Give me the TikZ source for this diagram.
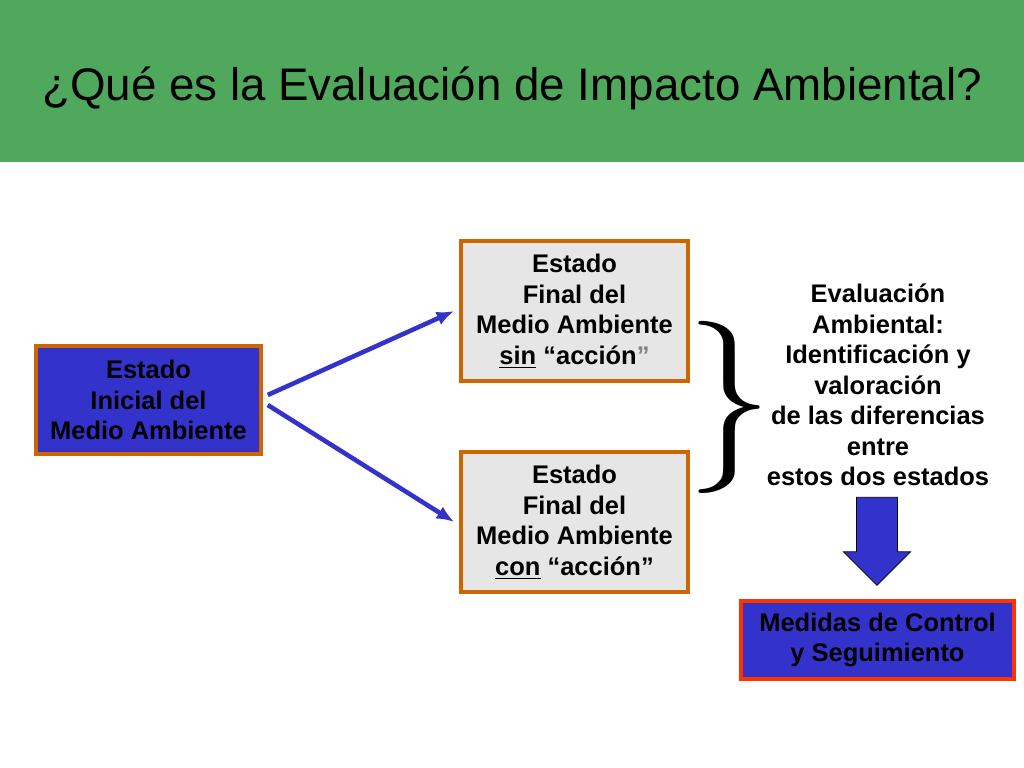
\documentclass[tikz,border=0pt]{standalone}
\usepackage{fontspec}
\setmainfont{Liberation Sans}
\newfontfamily\bracefont{Latin Modern Roman}
\usetikzlibrary{positioning,arrows.meta,shapes.arrows}
\definecolor{bandgreen}{RGB}{80,168,92}
\definecolor{boxblue}{RGB}{51,51,204}
\definecolor{boxorange}{RGB}{204,102,0}
\definecolor{boxgray}{RGB}{230,230,230}
\definecolor{boxred}{RGB}{255,51,0}
\tikzset{
  statebox/.style={draw=boxorange, line width=2pt, align=center, font=\fontsize{14.5}{17.4}\selectfont\bfseries, inner sep=0pt},
  flowarrow/.style={draw=boxblue, line width=2.6pt, -{Latex[length=10pt,width=8pt]}},
}
\begin{document}
\begin{tikzpicture}
\useasboundingbox (0,0) rectangle (20.48,15.36);
\fill[bandgreen] (0,12.12) rectangle (20.48,15.36);
\node (title) at (10.24,13.6) {\fontsize{26}{30}\selectfont ¿Qué es la Evaluación de Impacto Ambiental?};
% estados
\node[statebox, fill=boxblue, minimum width=4.5cm, minimum height=2.16cm] (inicial) at (2.97,7.36)
  {Estado\\Inicial del\\Medio Ambiente};
\node[statebox, fill=boxgray, minimum width=4.54cm, minimum height=2.8cm] (sin) at (11.49,9.14)
  {Estado\\Final del\\Medio Ambiente\\\underline{sin} “acción{\color{gray}”}};
\node[statebox, fill=boxgray, minimum width=4.54cm, minimum height=2.8cm] (con) at (11.49,4.92)
  {Estado\\Final del\\Medio Ambiente\\\underline{con} “acción”};
\draw[flowarrow] ([xshift=0.1cm,yshift=0.1cm]inicial.east) -- ([xshift=-0.1cm]sin.west);
\draw[flowarrow] ([xshift=0.1cm,yshift=-0.1cm]inicial.east) -- ([xshift=-0.1cm]con.west);
% llave y evaluacion
\node[inner sep=0pt] (llave) at (14.6,7.22) {\bracefont\fontsize{98}{98}\selectfont\}};
\node[align=center, font=\fontsize{14.5}{17.4}\selectfont\bfseries] (eval) at (17.56,7.66)
  {Evaluación\\Ambiental:\\Identificación y\\valoración\\de las diferencias\\entre\\estos dos estados};
\node[statebox, draw=boxred, fill=boxblue, minimum width=5.46cm, minimum height=1.56cm] (medidas) at (17.55,2.56)
  {Medidas de Control\\y Seguimiento};
\node[single arrow, draw=black, fill=boxblue, shape border rotate=270, minimum width=1.34cm,
  single arrow head extend=0.22cm, single arrow head indent=0pt, minimum height=1.76cm,
  inner sep=0.34cm, anchor=north] (baja) at (17.54,5.42) {};
\end{tikzpicture}
\end{document}
